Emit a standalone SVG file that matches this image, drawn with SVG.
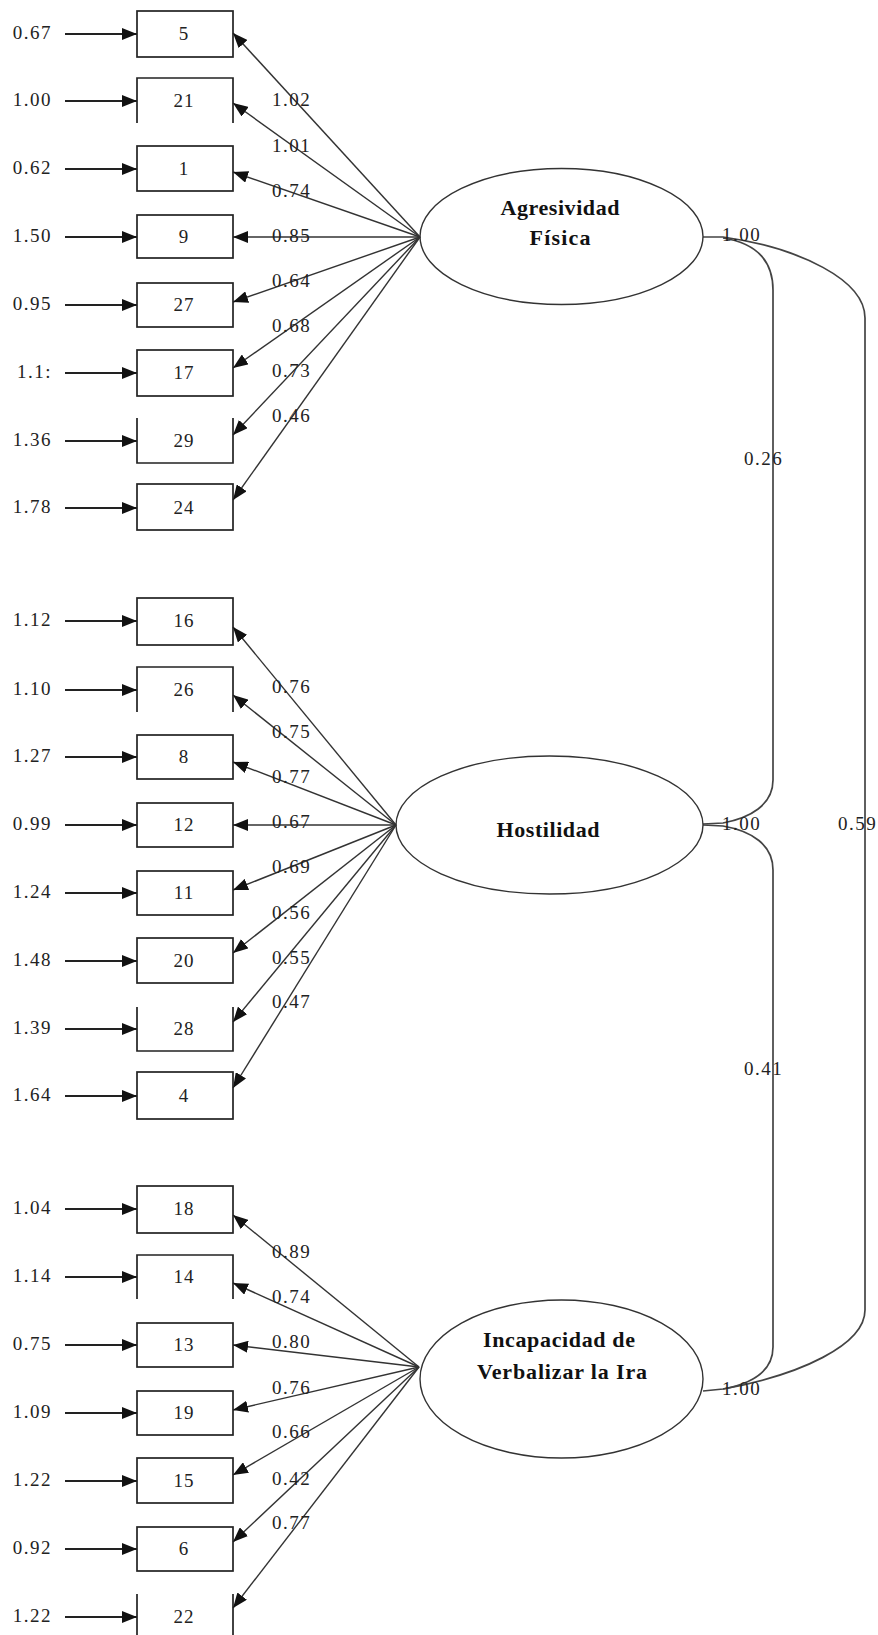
<svg xmlns="http://www.w3.org/2000/svg" width="878" height="1635" viewBox="0 0 878 1635">
<defs>
<style>
.bg{fill:#fff}
.box{fill:none;stroke:#222;stroke-width:1.7}
.lat{fill:none;stroke:#333;stroke-width:1.4}
.t{font-family:"Liberation Serif","Times New Roman",serif;font-size:19px;fill:#222;letter-spacing:1.5px}
.bt{font-family:"Liberation Serif","Times New Roman",serif;font-size:19px;fill:#222;letter-spacing:1px;text-anchor:middle}
.lt{font-family:"Liberation Serif","Times New Roman",serif;font-size:22px;font-weight:bold;fill:#111;text-anchor:middle}
.e{text-anchor:end}
.ar{fill:none;stroke:#222;stroke-width:1.8;marker-end:url(#ah)}
.ld{fill:none;stroke:#333;stroke-width:1.4;marker-end:url(#ah)}
.cv{fill:none;stroke:#444;stroke-width:1.7}
</style>
<marker id="ah" markerUnits="userSpaceOnUse" markerWidth="15" markerHeight="12" refX="15" refY="6" orient="auto">
<path d="M0,0 L15,6 L0,12 z" fill="#111"/>
</marker>
</defs>
<rect class="bg" x="0" y="0" width="878" height="1635"/>

<g id="connectors">
<path class="ar" d="M65,34 H137"/>
<path class="ar" d="M65,101 H137"/>
<path class="ar" d="M65,169 H137"/>
<path class="ar" d="M65,237 H137"/>
<path class="ar" d="M65,305 H137"/>
<path class="ar" d="M65,373 H137"/>
<path class="ar" d="M65,441 H137"/>
<path class="ar" d="M65,508 H137"/>
<path class="ar" d="M65,621 H137"/>
<path class="ar" d="M65,690 H137"/>
<path class="ar" d="M65,757 H137"/>
<path class="ar" d="M65,825 H137"/>
<path class="ar" d="M65,893 H137"/>
<path class="ar" d="M65,961 H137"/>
<path class="ar" d="M65,1029 H137"/>
<path class="ar" d="M65,1096 H137"/>
<path class="ar" d="M65,1209 H137"/>
<path class="ar" d="M65,1277 H137"/>
<path class="ar" d="M65,1345 H137"/>
<path class="ar" d="M65,1413 H137"/>
<path class="ar" d="M65,1481 H137"/>
<path class="ar" d="M65,1549 H137"/>
<path class="ar" d="M65,1617 H137"/>
<!-- loadings Agresividad -->
<path class="ld" d="M420,237 L233,33"/>
<path class="ld" d="M420,237 L233,103"/>
<path class="ld" d="M420,237 L233,172"/>
<path class="ld" d="M420,237 L233,237"/>
<path class="ld" d="M420,237 L233,302"/>
<path class="ld" d="M420,237 L233,368"/>
<path class="ld" d="M420,237 L233,435"/>
<path class="ld" d="M420,237 L233,500"/>
<!-- loadings Hostilidad -->
<path class="ld" d="M396,825 L233,627"/>
<path class="ld" d="M396,825 L233,695"/>
<path class="ld" d="M396,825 L233,762"/>
<path class="ld" d="M396,825 L233,825"/>
<path class="ld" d="M396,825 L233,890"/>
<path class="ld" d="M396,825 L233,953"/>
<path class="ld" d="M396,825 L233,1022"/>
<path class="ld" d="M396,825 L233,1088"/>
<!-- loadings Incapacidad -->
<path class="ld" d="M419,1367 L233,1215"/>
<path class="ld" d="M419,1367 L233,1283"/>
<path class="ld" d="M419,1367 L233,1345"/>
<path class="ld" d="M419,1367 L233,1410"/>
<path class="ld" d="M419,1367 L233,1475"/>
<path class="ld" d="M419,1367 L233,1542"/>
<path class="ld" d="M419,1367 L233,1608"/>
<!-- covariances -->
<path class="cv" d="M703,237 H723 C800,248 865,280 865,318 V1310 C865,1345 800,1375 723,1389 L703,1391"/>
<path class="cv" d="M723,238 C755,243 773,260 773,290 V780 C773,805 750,818 723,823 L703,824"/>
<path class="cv" d="M703,825 L723,826 C752,831 773,845 773,870 V1347 C773,1370 755,1383 723,1389"/>
<g class="t">
<text x="272" y="106">1.02</text>
<text x="272" y="152">1.01</text>
<text x="272" y="197">0.74</text>
<text x="272" y="242">0.85</text>
<text x="272" y="287">0.64</text>
<text x="272" y="332">0.68</text>
<text x="272" y="377">0.73</text>
<text x="272" y="422">0.46</text>
<text x="272" y="693">0.76</text>
<text x="272" y="738">0.75</text>
<text x="272" y="783">0.77</text>
<text x="272" y="828">0.67</text>
<text x="272" y="873">0.69</text>
<text x="272" y="919">0.56</text>
<text x="272" y="964">0.55</text>
<text x="272" y="1008">0.47</text>
<text x="272" y="1258">0.89</text>
<text x="272" y="1303">0.74</text>
<text x="272" y="1348">0.80</text>
<text x="272" y="1394">0.76</text>
<text x="272" y="1438">0.66</text>
<text x="272" y="1485">0.42</text>
<text x="272" y="1529">0.77</text>
<text x="722" y="241">1.00</text>
<text x="722" y="830">1.00</text>
<text x="722" y="1395">1.00</text>
<text x="744" y="465">0.26</text>
<text x="838" y="830">0.59</text>
<text x="744" y="1075">0.41</text>
</g>
</g>

<g id="F1">
<ellipse class="lat" cx="561.5" cy="236.5" rx="141.5" ry="68"/>
<text class="lt" x="560" y="215" textLength="119">Agresividad</text>
<text class="lt" x="560" y="245" textLength="61">Física</text>
</g>
<g id="F2">
<ellipse class="lat" cx="549.5" cy="825" rx="153.5" ry="69"/>
<text class="lt" x="548" y="837" textLength="103">Hostilidad</text>
</g>
<g id="F3">
<ellipse class="lat" cx="561.5" cy="1379" rx="141.5" ry="79"/>
<text class="lt" x="559" y="1347" textLength="152">Incapacidad de</text>
<text class="lt" x="562" y="1379" textLength="170">Verbalizar la Ira</text>
</g>

<g id="i5"><rect class="box" x="137" y="11" width="96" height="46"/><text class="bt" x="184" y="40">5</text><text class="t e" x="52" y="39">0.67</text></g>
<g id="i21"><path class="box" d="M137,123 V78 H233 V123"/><text class="bt" x="184" y="107">21</text><text class="t e" x="52" y="106">1.00</text></g>
<g id="i1"><rect class="box" x="137" y="146" width="96" height="45"/><text class="bt" x="184" y="175">1</text><text class="t e" x="52" y="174">0.62</text></g>
<g id="i9"><rect class="box" x="137" y="215" width="96" height="43"/><text class="bt" x="184" y="243">9</text><text class="t e" x="52" y="242">1.50</text></g>
<g id="i27"><rect class="box" x="137" y="283" width="96" height="44"/><text class="bt" x="184" y="311">27</text><text class="t e" x="52" y="310">0.95</text></g>
<g id="i17"><rect class="box" x="137" y="350" width="96" height="46"/><text class="bt" x="184" y="379">17</text><text class="t e" x="52" y="378">1.1:</text></g>
<g id="i29"><path class="box" d="M137,418 V463 H233 V418"/><text class="bt" x="184" y="447">29</text><text class="t e" x="52" y="446">1.36</text></g>
<g id="i24"><rect class="box" x="137" y="484" width="96" height="46"/><text class="bt" x="184" y="514">24</text><text class="t e" x="52" y="513">1.78</text></g>

<g id="i16"><rect class="box" x="137" y="598" width="96" height="47"/><text class="bt" x="184" y="627">16</text><text class="t e" x="52" y="626">1.12</text></g>
<g id="i26"><path class="box" d="M137,712 V667 H233 V712"/><text class="bt" x="184" y="696">26</text><text class="t e" x="52" y="695">1.10</text></g>
<g id="i8"><rect class="box" x="137" y="735" width="96" height="44"/><text class="bt" x="184" y="763">8</text><text class="t e" x="52" y="762">1.27</text></g>
<g id="i12"><rect class="box" x="137" y="803" width="96" height="44"/><text class="bt" x="184" y="831">12</text><text class="t e" x="52" y="830">0.99</text></g>
<g id="i11"><rect class="box" x="137" y="871" width="96" height="44"/><text class="bt" x="184" y="899">11</text><text class="t e" x="52" y="898">1.24</text></g>
<g id="i20"><rect class="box" x="137" y="938" width="96" height="45"/><text class="bt" x="184" y="967">20</text><text class="t e" x="52" y="966">1.48</text></g>
<g id="i28"><path class="box" d="M137,1007 V1051 H233 V1007"/><text class="bt" x="184" y="1035">28</text><text class="t e" x="52" y="1034">1.39</text></g>
<g id="i4"><rect class="box" x="137" y="1072" width="96" height="47"/><text class="bt" x="184" y="1102">4</text><text class="t e" x="52" y="1101">1.64</text></g>

<g id="i18"><rect class="box" x="137" y="1186" width="96" height="47"/><text class="bt" x="184" y="1215">18</text><text class="t e" x="52" y="1214">1.04</text></g>
<g id="i14"><path class="box" d="M137,1299 V1255 H233 V1299"/><text class="bt" x="184" y="1283">14</text><text class="t e" x="52" y="1282">1.14</text></g>
<g id="i13"><rect class="box" x="137" y="1323" width="96" height="44"/><text class="bt" x="184" y="1351">13</text><text class="t e" x="52" y="1350">0.75</text></g>
<g id="i19"><rect class="box" x="137" y="1391" width="96" height="44"/><text class="bt" x="184" y="1419">19</text><text class="t e" x="52" y="1418">1.09</text></g>
<g id="i15"><rect class="box" x="137" y="1458" width="96" height="45"/><text class="bt" x="184" y="1487">15</text><text class="t e" x="52" y="1486">1.22</text></g>
<g id="i6"><rect class="box" x="137" y="1527" width="96" height="44"/><text class="bt" x="184" y="1555">6</text><text class="t e" x="52" y="1554">0.92</text></g>
<g id="i22"><path class="box" d="M137,1594 V1640 M233,1594 V1640"/><text class="bt" x="184" y="1623">22</text><text class="t e" x="52" y="1622">1.22</text></g>
</svg>
